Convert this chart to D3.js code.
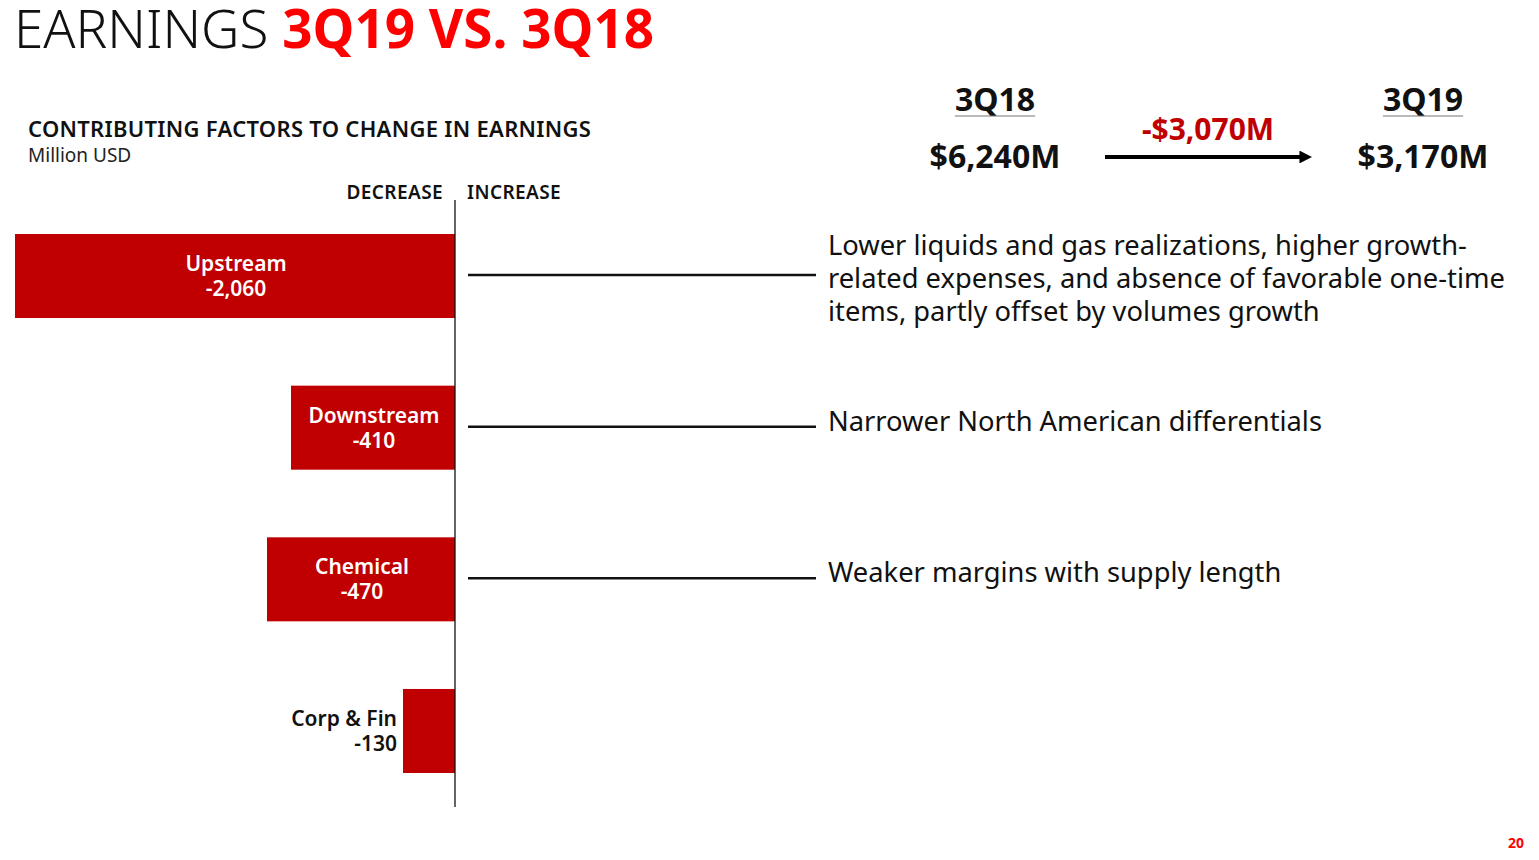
<!DOCTYPE html>
<html><head><meta charset="utf-8">
<script src="https://cdn.jsdelivr.net/npm/d3@7"></script>
<style>
html,body{margin:0;padding:0;background:#fff;}
svg{display:block;font-family:"Noto Sans",sans-serif;}
</style></head>
<body>
<svg id="chart" width="1539" height="860"></svg>
<script>
const categories = ["Upstream", "Downstream", "Chemical", "Corp & Fin"];
const values = [-2060, -410, -470, -130];
const valueLabels = ["-2,060", "-410", "-470", "-130"];
const insideLabel = [true, true, true, false];
const descriptions = [
  ["Lower liquids and gas realizations, higher growth-", "related expenses, and absence of favorable one-time", "items, partly offset by volumes growth"],
  ["Narrower North American differentials"],
  ["Weaker margins with supply length"],
  []
];
const periods = ["3Q18", "3Q19"];
const periodEarnings = ["$6,240M", "$3,170M"];
const changeLabel = "-$3,070M";

const svg = d3.select("#chart");
const red = "#c00000";

// Title
const title = svg.append("text").attr("x", 14).attr("y", 48).attr("font-size", 53);
title.append("tspan").attr("font-weight", 300).attr("fill", "#111").text("EARNINGS ");
title.append("tspan").attr("font-weight", 700).attr("fill", "#ff0000").text("3Q19 VS. 3Q18");

svg.append("text").attr("x", 28).attr("y", 137).attr("font-size", 22).attr("font-weight", 600)
  .attr("letter-spacing", 0.3).attr("fill", "#111").text("CONTRIBUTING FACTORS TO CHANGE IN EARNINGS");
svg.append("text").attr("x", 28).attr("y", 162).attr("font-size", 19).attr("font-weight", 400)
  .attr("fill", "#222").text("Million USD");

// scales
const x = d3.scaleLinear().domain([-1100, 0]).range([15, 455]).clamp(true);
const y = d3.scaleBand().domain(categories).range([234, 773]).paddingInner(0.446).paddingOuter(0);

svg.append("text").attr("x", x(0) - 12).attr("y", 199).attr("text-anchor", "end")
  .attr("font-size", 19).attr("font-weight", 600).attr("letter-spacing", 0.4).attr("fill", "#111").text("DECREASE");
svg.append("text").attr("x", x(0) + 12).attr("y", 199).attr("text-anchor", "start")
  .attr("font-size", 19).attr("font-weight", 600).attr("letter-spacing", 0.4).attr("fill", "#111").text("INCREASE");

const data = categories.map((c, i) => ({c, v: values[i], lbl: valueLabels[i], inside: insideLabel[i], desc: descriptions[i]}));

svg.selectAll("rect.bar").data(data).join("rect").attr("class", "bar")
  .attr("x", d => x(d.v)).attr("y", d => y(d.c))
  .attr("width", d => x(0) - x(d.v)).attr("height", y.bandwidth()).attr("fill", red);

// zero axis
svg.append("line").attr("x1", x(0)).attr("x2", x(0)).attr("y1", 200).attr("y2", 807)
  .attr("stroke", "#111").attr("stroke-width", 1.3);

// bar labels
const lab = svg.selectAll("text.blabel").data(data).join("text").attr("class", "blabel")
  .attr("font-size", 21).attr("font-weight", 600)
  .attr("fill", d => d.inside ? "#fff" : "#111")
  .attr("text-anchor", d => d.inside ? "middle" : "end")
  .attr("transform", d => {
    const tx = d.inside ? (x(d.v) + x(0)) / 2 + 1 : x(d.v) - 6;
    return `translate(${tx},${y(d.c) + y.bandwidth() / 2})`;
  });
lab.append("tspan").attr("x", 0).attr("y", -5).text(d => d.c);
lab.append("tspan").attr("x", 0).attr("y", 20).text(d => d.lbl);

// connectors + descriptions
const withDesc = data.filter(d => d.desc.length);
svg.selectAll("line.conn").data(withDesc).join("line").attr("class", "conn")
  .attr("x1", 468).attr("x2", 816)
  .attr("y1", d => y(d.c) + y.bandwidth() / 2 - 1).attr("y2", d => y(d.c) + y.bandwidth() / 2 - 1)
  .attr("stroke", "#111").attr("stroke-width", 2.5);

const desc = svg.selectAll("text.desc").data(withDesc).join("text").attr("class", "desc")
  .attr("font-size", 27.3).attr("font-weight", 400).attr("fill", "#111")
  .attr("transform", d => `translate(828,${y(d.c) + y.bandwidth() / 2})`);
desc.selectAll("tspan").data(d => d.desc.map((t, i) => ({t, i, n: d.desc.length})))
  .join("tspan").attr("x", 0)
  .attr("y", e => (e.i - (e.n - 1) / 2) * 33 + (e.n === 1 ? 3 : 12))
  .text(e => e.t);

// period summary
const px = [995, 1423];
periods.forEach((p, i) => {
  const t = svg.append("text").attr("x", px[i]).attr("y", 111).attr("text-anchor", "middle")
    .attr("font-size", 32).attr("font-weight", 700).attr("fill", "#111").text(p);
  const w = t.node().getComputedTextLength();
  svg.append("line").attr("x1", px[i] - w / 2).attr("x2", px[i] + w / 2).attr("y1", 116).attr("y2", 116)
    .attr("stroke", "#777").attr("stroke-width", 1.2);
  svg.append("text").attr("x", px[i]).attr("y", 168).attr("text-anchor", "middle")
    .attr("font-size", 32).attr("font-weight", 700).attr("fill", "#111").text(periodEarnings[i]);
});
svg.append("defs").append("marker").attr("id", "arr").attr("viewBox", "0 0 10 10")
  .attr("refX", 2).attr("refY", 5).attr("markerWidth", 3.2).attr("markerHeight", 3.2)
  .attr("orient", "auto").append("path").attr("d", "M0,0 L10,5 L0,10 Z").attr("fill", "#000");
svg.append("line").attr("x1", 1105).attr("x2", 1302).attr("y1", 157).attr("y2", 157)
  .attr("stroke", "#000").attr("stroke-width", 4).attr("marker-end", "url(#arr)");
svg.append("text").attr("x", 1208).attr("y", 140).attr("text-anchor", "middle")
  .attr("font-size", 30).attr("font-weight", 700).attr("fill", red).text(changeLabel);

svg.append("text").attr("x", 1516).attr("y", 848).attr("text-anchor", "middle")
  .attr("font-size", 14).attr("font-weight", 700).attr("fill", "#ff0000").text("20");
</script>
</body></html>
